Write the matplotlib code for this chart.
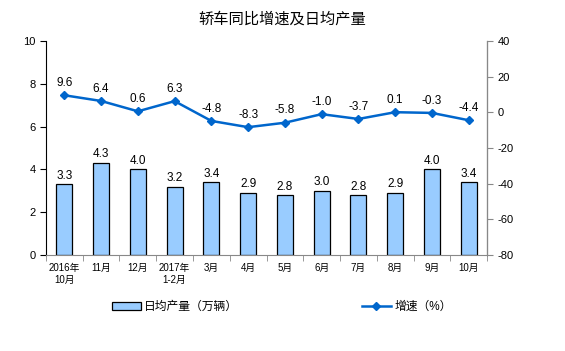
import numpy as np
import matplotlib.pyplot as plt
from matplotlib.lines import Line2D
from matplotlib.patches import Patch

plt.rcParams['font.family'] = ['Liberation Sans', 'Noto Sans CJK SC']
plt.rcParams['axes.unicode_minus'] = False

# data
months = ['2016年\n10月', '11月', '12月', '2017年\n1-2月', '3月', '4月',
          '5月', '6月', '7月', '8月', '9月', '10月']
daily_output = [3.3, 4.3, 4.0, 3.2, 3.4, 2.9, 2.8, 3.0, 2.8, 2.9, 4.0, 3.4]
growth = [9.6, 6.4, 0.6, 6.3, -4.8, -8.3, -5.8, -1.0, -3.7, 0.1, -0.3, -4.4]

bar_color = '#99CCFF'
line_color = '#0066CC'

fig = plt.figure(figsize=(5.65, 3.51), dpi=100)
ax = fig.add_axes([0.0814, 0.2735, 0.7806, 0.6095])
ax2 = ax.twinx()

x = np.arange(len(months))
ax.bar(x, daily_output, width=0.44, color=bar_color, edgecolor='black', linewidth=0.9, zorder=2)
for xi, v in zip(x, daily_output):
    ax.text(xi, v + 0.12, f'{v:.1f}', ha='center', va='bottom', fontsize=8.5)

ax2.plot(x, growth, color=line_color, lw=1.8, marker='D', markersize=4, zorder=3)
for xi, v in zip(x, growth):
    ax2.text(xi, v + 3.5, f'{v:.1f}', ha='center', va='bottom', fontsize=8.5)

ax.set_xlim(-0.5, len(months) - 0.5)
ax.set_ylim(0, 10)
ax.set_yticks(range(0, 11, 2))
ax2.set_ylim(-80, 40)
ax2.set_yticks(range(-80, 41, 20))

ax.set_xticks(x)
ax.set_xticklabels(months, fontsize=7)
ax.set_xticks(np.arange(-0.5, len(months)), minor=True)
ax.tick_params(axis='x', which='major', length=0, pad=6)
ax.tick_params(axis='x', which='minor', length=4, color='#888888', direction='out')
ax.tick_params(axis='y', labelsize=8, length=4, direction='out')
ax2.tick_params(axis='y', labelsize=8, length=4, direction='out', color='#888888')

for a in (ax, ax2):
    a.spines['top'].set_visible(False)
ax.spines['left'].set_color('black')
ax.spines['bottom'].set_color('#888888')
ax2.spines['right'].set_color('#888888')
ax2.spines['left'].set_visible(False)
ax2.spines['bottom'].set_visible(False)

fig.text(0.5, 0.945, '轿车同比增速及日均产量', ha='center', va='center', fontsize=11)

handles = [Patch(facecolor=bar_color, edgecolor='black', linewidth=0.9),
           Line2D([0], [0], color=line_color, lw=1.8, marker='D', markersize=4)]
fig.legend(handles, ['日均产量（万辆）', '增速（%）'], loc='center', ncol=2,
           bbox_to_anchor=(0.499, 0.125), frameon=False, fontsize=8.5,
           columnspacing=10.5, handlelength=2.4, handletextpad=0.3)

fig.savefig('out.png', dpi=100)
